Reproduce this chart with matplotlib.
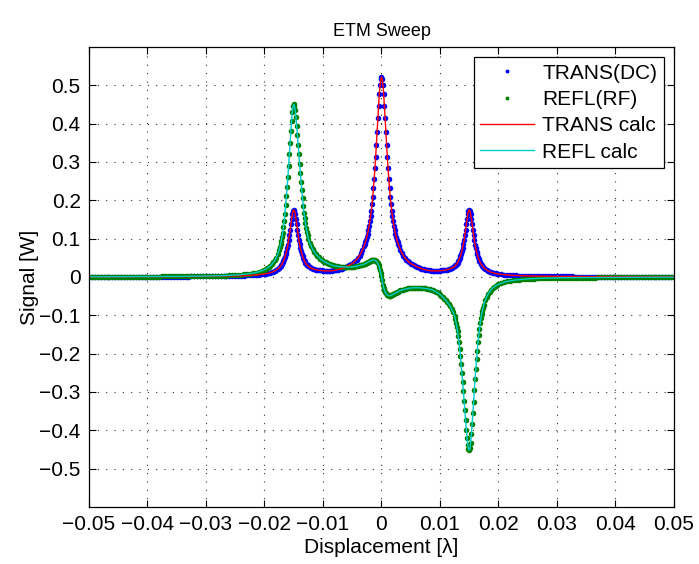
import numpy as np
import matplotlib
matplotlib.use("Agg")
import matplotlib.pyplot as plt
from matplotlib.ticker import FixedLocator, FuncFormatter

plt.rcParams['font.family'] = ['Liberation Sans', 'DejaVu Sans']
plt.rcParams['lines.scale_dashes'] = False

# displacement samples, in units of 1e-3 wavelength
x_left = [-50, -49.5, -49, -48.5, -48, -47.5, -47, -46.5, -46, -45.5,
          -45, -44.5, -44, -43.5, -43, -42.5, -42, -41.5, -41, -40.5,
          -40, -39.5, -39, -38.5, -38, -37.5, -37, -36.5, -36, -35.5,
          -35, -34.5, -34, -33.5, -33, -32.5, -32, -31.5, -31, -30.5,
          -30, -29.5, -29, -28.5, -28, -27.5, -27, -26.5, -26, -25.5,
          -25, -24.5, -24, -23.5, -23, -22.5, -22, -21.5, -21, -20.5]
x_mid = [-20, -19.75, -19.5, -19.25, -19, -18.75, -18.5, -18.25,
         -18, -17.75, -17.5, -17.25, -17, -16.75, -16.5, -16.25,
         -16, -15.75, -15.5, -15.25, -15, -14.75, -14.5, -14.25,
         -14, -13.75, -13.5, -13.25, -13, -12.75, -12.5, -12.25,
         -12, -11.75, -11.5, -11.25, -11, -10.75, -10.5, -10.25,
         -10, -9.75, -9.5, -9.25, -9, -8.75, -8.5, -8.25,
         -8, -7.75, -7.5, -7.25, -7, -6.75, -6.5, -6.25,
         -6, -5.75, -5.5, -5.25, -5, -4.75, -4.5, -4.25,
         -4, -3.75, -3.5, -3.25, -3, -2.75, -2.5, -2.25,
         -2, -1.75, -1.5, -1.25, -1, -0.75, -0.5, -0.25,
         0, 0.25, 0.5, 0.75, 1, 1.25, 1.5, 1.75,
         2, 2.25, 2.5, 2.75, 3, 3.25, 3.5, 3.75,
         4, 4.25, 4.5, 4.75, 5, 5.25, 5.5, 5.75,
         6, 6.25, 6.5, 6.75, 7, 7.25, 7.5, 7.75,
         8, 8.25, 8.5, 8.75, 9, 9.25, 9.5, 9.75,
         10, 10.25, 10.5, 10.75, 11, 11.25, 11.5, 11.75,
         12, 12.25, 12.5, 12.75, 13, 13.25, 13.5, 13.75,
         14, 14.25, 14.5, 14.75, 15, 15.25, 15.5, 15.75,
         16, 16.25, 16.5, 16.75, 17, 17.25, 17.5, 17.75,
         18, 18.25, 18.5, 18.75, 19, 19.25, 19.5, 19.75, 20]
x_right = [20.5, 21, 21.5, 22, 22.5, 23, 23.5, 24, 24.5, 25,
           25.5, 26, 26.5, 27, 27.5, 28, 28.5, 29, 29.5, 30,
           30.5, 31, 31.5, 32, 32.5, 33, 33.5, 34, 34.5, 35,
           35.5, 36, 36.5, 37, 37.5, 38, 38.5, 39, 39.5, 40,
           40.5, 41, 41.5, 42, 42.5, 43, 43.5, 44, 44.5, 45,
           45.5, 46, 46.5, 47, 47.5, 48, 48.5, 49, 49.5, 50]
# extra samples on the steep flanks of the three resonances
x_fine = [-17.375, -17.125, -16.875, -16.625, -16.375, -16.125, -15.875, -15.625,
          -15.375, -15.125, -14.875, -14.625, -14.375, -14.125, -13.875, -13.625,
          -13.375, -13.125, -12.875, -12.625,
          -2.875, -2.625, -2.375, -2.125, -1.875, -1.625, -1.375, -1.125,
          -0.875, -0.625, -0.375, -0.125, 0.125, 0.375, 0.625, 0.875,
          1.125, 1.375, 1.625, 1.875, 2.125, 2.375, 2.625, 2.875,
          12.625, 12.875, 13.125, 13.375, 13.625, 13.875, 14.125, 14.375,
          14.625, 14.875, 15.125, 15.375, 15.625, 15.875, 16.125, 16.375,
          16.625, 16.875, 17.125, 17.375]

# transmitted power [W]
trans_left = [0.0004, 0.0004, 0.0004, 0.0004, 0.0005, 0.0005, 0.0005, 0.0005, 0.0005, 0.0005,
              0.0006, 0.0006, 0.0006, 0.0006, 0.0006, 0.0006, 0.0007, 0.0007, 0.0007, 0.0007,
              0.0007, 0.0008, 0.0008, 0.0008, 0.0009, 0.0009, 0.0009, 0.0009, 0.0010, 0.0010,
              0.0010, 0.0011, 0.0011, 0.0012, 0.0012, 0.0013, 0.0013, 0.0014, 0.0014, 0.0015,
              0.0015, 0.0016, 0.0017, 0.0018, 0.0019, 0.0020, 0.0021, 0.0023, 0.0024, 0.0026,
              0.0027, 0.0030, 0.0032, 0.0035, 0.0039, 0.0042, 0.0047, 0.0053, 0.0060, 0.0068]
trans_mid = [0.0079, 0.0086, 0.0093, 0.010, 0.011, 0.0125, 0.014, 0.016,
             0.018, 0.021, 0.024, 0.029, 0.034, 0.042, 0.052, 0.066,
             0.084, 0.109, 0.137, 0.163, 0.175, 0.164, 0.138, 0.110,
             0.086, 0.068, 0.055, 0.045, 0.037, 0.032, 0.028, 0.025,
             0.023, 0.022, 0.020, 0.019, 0.018, 0.018, 0.017, 0.017,
             0.016, 0.016, 0.016, 0.016, 0.016, 0.016, 0.016, 0.017,
             0.017, 0.018, 0.019, 0.020, 0.021, 0.022, 0.024, 0.025,
             0.027, 0.029, 0.031, 0.033, 0.035, 0.038, 0.042, 0.045,
             0.050, 0.056, 0.062, 0.070, 0.080, 0.091, 0.105, 0.122,
             0.145, 0.171, 0.208, 0.255, 0.312, 0.378, 0.446, 0.500,
             0.522, 0.500, 0.446, 0.378, 0.312, 0.255, 0.208, 0.171,
             0.145, 0.122, 0.105, 0.091, 0.080, 0.070, 0.062, 0.056,
             0.050, 0.045, 0.042, 0.038, 0.035, 0.033, 0.031, 0.029,
             0.027, 0.025, 0.024, 0.022, 0.021, 0.020, 0.019, 0.018,
             0.017, 0.017, 0.016, 0.016, 0.016, 0.016, 0.016, 0.016,
             0.016, 0.017, 0.017, 0.018, 0.018, 0.019, 0.020, 0.022,
             0.023, 0.025, 0.028, 0.032, 0.037, 0.045, 0.055, 0.068,
             0.086, 0.110, 0.138, 0.164, 0.175, 0.163, 0.137, 0.109,
             0.084, 0.066, 0.052, 0.042, 0.034, 0.029, 0.024, 0.021,
             0.018, 0.016, 0.014, 0.0125, 0.011, 0.010, 0.0093, 0.0086, 0.0079]
trans_right = [0.0068, 0.0060, 0.0053, 0.0047, 0.0042, 0.0039, 0.0035, 0.0032, 0.0030, 0.0027,
               0.0026, 0.0024, 0.0023, 0.0021, 0.0020, 0.0019, 0.0018, 0.0017, 0.0016, 0.0015,
               0.0015, 0.0014, 0.0014, 0.0013, 0.0013, 0.0012, 0.0012, 0.0011, 0.0011, 0.0010,
               0.0010, 0.0010, 0.0009, 0.0009, 0.0009, 0.0009, 0.0008, 0.0008, 0.0008, 0.0007,
               0.0007, 0.0007, 0.0007, 0.0007, 0.0006, 0.0006, 0.0006, 0.0006, 0.0006, 0.0006,
               0.0005, 0.0005, 0.0005, 0.0005, 0.0005, 0.0005, 0.0004, 0.0004, 0.0004, 0.0004]
trans_fine = [0.0265, 0.031, 0.038, 0.046, 0.059, 0.075, 0.096, 0.123,
              0.151, 0.172, 0.172, 0.151, 0.123, 0.096, 0.076, 0.061,
              0.049, 0.041, 0.0345, 0.030,
              0.085, 0.097, 0.113, 0.133, 0.158, 0.190, 0.231, 0.283,
              0.345, 0.414, 0.477, 0.516, 0.516, 0.477, 0.414, 0.345,
              0.283, 0.231, 0.190, 0.158, 0.133, 0.113, 0.097, 0.085,
              0.030, 0.0345, 0.041, 0.049, 0.061, 0.076, 0.096, 0.123,
              0.151, 0.172, 0.172, 0.151, 0.123, 0.096, 0.075, 0.059,
              0.046, 0.038, 0.031, 0.0265]

# reflected (RF demodulated) signal [W]
refl_left = [0.0005, 0.0005, 0.0005, 0.0005, 0.0006, 0.0006, 0.0006, 0.0006, 0.0007, 0.0007,
             0.0007, 0.0007, 0.0008, 0.0008, 0.0008, 0.0009, 0.0009, 0.0009, 0.0010, 0.0010,
             0.0010, 0.0011, 0.0011, 0.0012, 0.0012, 0.0013, 0.0013, 0.0014, 0.0014, 0.0015,
             0.0015, 0.0016, 0.0016, 0.0017, 0.0017, 0.0018, 0.0019, 0.0020, 0.0020, 0.0021,
             0.0022, 0.0024, 0.0026, 0.0028, 0.0030, 0.0032, 0.0035, 0.0038, 0.0042, 0.0046,
             0.0050, 0.0056, 0.0062, 0.0070, 0.0078, 0.0088, 0.0100, 0.0115, 0.0135, 0.0160]
refl_mid = [0.019, 0.021, 0.023, 0.026, 0.029, 0.033, 0.038, 0.043,
            0.050, 0.059, 0.070, 0.085, 0.104, 0.130, 0.165, 0.210,
            0.260, 0.320, 0.380, 0.430, 0.450, 0.435, 0.395, 0.345,
            0.295, 0.248, 0.205, 0.168, 0.140, 0.118, 0.100, 0.089,
            0.080, 0.072, 0.066, 0.060, 0.056, 0.052, 0.048, 0.045,
            0.042, 0.040, 0.038, 0.036, 0.034, 0.033, 0.031, 0.030,
            0.029, 0.028, 0.028, 0.027, 0.027, 0.0265, 0.026, 0.026,
            0.026, 0.026, 0.026, 0.026, 0.0263, 0.0268, 0.0274, 0.028,
            0.029, 0.030, 0.031, 0.032, 0.033, 0.035, 0.037, 0.039,
            0.041, 0.043, 0.044, 0.044, 0.042, 0.039, 0.031, 0.018,
            0.002, -0.020, -0.034, -0.043, -0.047, -0.049, -0.049, -0.047,
            -0.045, -0.043, -0.041, -0.039, -0.037, -0.035, -0.034, -0.033,
            -0.032, -0.031, -0.030, -0.0293, -0.0288, -0.0284, -0.028, -0.028,
            -0.028, -0.028, -0.0282, -0.0285, -0.029, -0.0295, -0.030, -0.0305,
            -0.031, -0.032, -0.033, -0.0345, -0.036, -0.038, -0.040, -0.043,
            -0.046, -0.049, -0.053, -0.057, -0.061, -0.066, -0.071, -0.077,
            -0.084, -0.092, -0.102, -0.119, -0.141, -0.169, -0.206, -0.250,
            -0.298, -0.348, -0.398, -0.438, -0.452, -0.432, -0.384, -0.325,
            -0.266, -0.215, -0.170, -0.135, -0.108, -0.088, -0.072, -0.060,
            -0.051, -0.044, -0.038, -0.033, -0.029, -0.026, -0.023, -0.021, -0.019]
refl_right = [-0.0160, -0.0135, -0.0115, -0.0100, -0.0088, -0.0078, -0.0070, -0.0062, -0.0056, -0.0050,
              -0.0046, -0.0042, -0.0038, -0.0035, -0.0032, -0.0030, -0.0028, -0.0026, -0.0024, -0.0022,
              -0.0021, -0.0020, -0.0020, -0.0019, -0.0018, -0.0017, -0.0017, -0.0016, -0.0016, -0.0015,
              -0.0015, -0.0014, -0.0014, -0.0013, -0.0013, -0.0012, -0.0012, -0.0011, -0.0011, -0.0010,
              -0.0010, -0.0010, -0.0009, -0.0009, -0.0009, -0.0008, -0.0008, -0.0008, -0.0007, -0.0007,
              -0.0007, -0.0007, -0.0006, -0.0006, -0.0006, -0.0006, -0.0005, -0.0005, -0.0005, -0.0005]
refl_fine = [0.077, 0.094, 0.116, 0.147, 0.187, 0.234, 0.290, 0.350,
             0.407, 0.445, 0.446, 0.417, 0.371, 0.320, 0.271, 0.226,
             0.186, 0.154, 0.129, 0.109,
             0.034, 0.036, 0.038, 0.040, 0.042, 0.0435, 0.0443, 0.0433,
             0.041, 0.0355, 0.025, 0.010, -0.009, -0.028, -0.039, -0.0455,
             -0.0483, -0.0493, -0.048, -0.046, -0.044, -0.042, -0.040, -0.038,
             -0.110, -0.130, -0.155, -0.187, -0.228, -0.274, -0.323, -0.374,
             -0.420, -0.448, -0.447, -0.410, -0.355, -0.295, -0.240, -0.192,
             -0.152, -0.121, -0.097, -0.080]

x = np.array(x_left + x_mid + x_right + x_fine) * 1e-3
trans = np.array(trans_left + trans_mid + trans_right + trans_fine)
refl = np.array(refl_left + refl_mid + refl_right + refl_fine)
assert len(x) == len(trans) == len(refl), (len(x), len(trans), len(refl))
order = np.argsort(x)
x, trans, refl = x[order], trans[order], refl[order]

fig = plt.figure(figsize=(6.99, 5.64), dpi=100)
ax = fig.add_axes([0.1273, 0.1011, 0.8369, 0.8156])

ax.plot(x, trans, 'o', color='b', ms=4.0, mew=0, label='TRANS(DC)')
ax.plot(x, refl, 'o', color=(0, 0.5, 0), ms=4.0, mew=0, label='REFL(RF)')
ax.plot(x, trans, '-', color='r', lw=1.0, label='TRANS calc')
ax.plot(x, refl, '-', color=(0, 0.8, 0.8), lw=1.0, label='REFL calc')

ax.set_xlim(-0.05, 0.05)
ax.set_ylim(-0.6, 0.6)
xt = [-0.05, -0.04, -0.03, -0.02, -0.01, 0, 0.01, 0.02, 0.03, 0.04, 0.05]
yt = [-0.5, -0.4, -0.3, -0.2, -0.1, 0, 0.1, 0.2, 0.3, 0.4, 0.5]
ax.xaxis.set_major_locator(FixedLocator(xt))
ax.yaxis.set_major_locator(FixedLocator(yt))
fmt = FuncFormatter(lambda v, p: ('%g' % round(v, 4)).replace('-', '\u2212'))
ax.xaxis.set_major_formatter(fmt)
ax.yaxis.set_major_formatter(fmt)
ax.tick_params(direction='in', length=5, width=0.8, top=True, right=True,
               labelsize=15, pad=6)
for s in ax.spines.values():
    s.set_linewidth(0.9)

ax.grid(True, color='0.2', linestyle=(0, (0.8, 5.2)), linewidth=0.8)

ax.set_title('ETM Sweep', fontsize=13, pad=8)
ax.set_xlabel('Displacement [\u03bb]', fontsize=15, labelpad=3)
ax.set_ylabel('Signal [W]', fontsize=15, labelpad=0)

leg = ax.legend(loc='upper right', fontsize=15, frameon=True, fancybox=False,
                edgecolor='k', framealpha=1, handlelength=2.6, handletextpad=0.4,
                borderaxespad=0.5, labelspacing=0.35, borderpad=0.3, markerscale=0.7)
leg.get_frame().set_linewidth(0.9)

fig.savefig('out.png', dpi=100, facecolor='white')
